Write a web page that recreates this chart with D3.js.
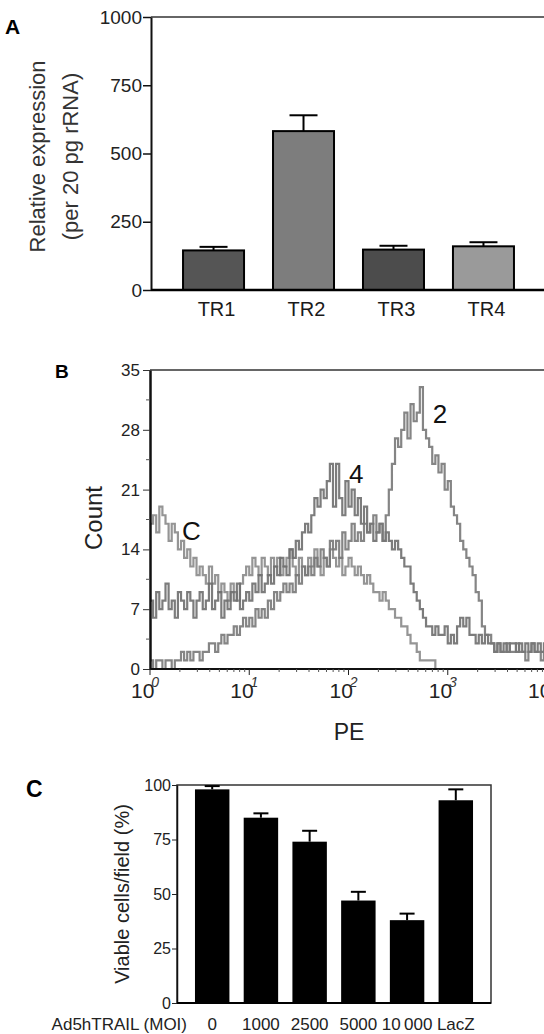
<!DOCTYPE html>
<html><head><meta charset="utf-8">
<script src="https://cdn.jsdelivr.net/npm/d3@7"></script>
<style>
body{margin:0;background:#fff}
svg{display:block}
text{font-family:"Liberation Sans",Arial,Helvetica,sans-serif;fill:#1a1a1a}
</style>
</head><body>
<svg id="chart" width="544" height="1034"></svg>
<script>
// ---------- Panel A data ----------
const trCategories = ["TR1", "TR2", "TR3", "TR4"];
const trValues = [145, 582, 148, 160];
const trErrors = [13, 58, 14, 15];
const trTicks = [0, 250, 500, 750, 1000];
const trFill = ["#555555", "#7d7d7d", "#4c4c4c", "#9a9a9a"];

// ---------- Panel B data ----------
const peTicks = [1, 10, 100, 1000, 10000];
const peExponents = ["0", "1", "2", "3", "4"];
const countTicks = [0, 7, 14, 21, 28, 35];
const binsPerDecade = 32;
const histC = [
  17,18,16,19,18,17,15,17,16,14,
  15,13,14,12,13,11,12,11,10,12,
  10,11,9,10,9,8,10,9,8,10,
  11,12,11,13,12,11,13,12,11,13,
  12,13,11,12,13,14,12,11,13,12,
  11,13,12,14,12,11,13,12,14,13,
  12,13,11,12,13,12,11,12,11,10,
  11,10,9,9,8,9,8,7,7,6,
  6,5,5,4,3,3,2,1,1,1,
  1,1,0,0,0,0,0,0,0,0,
  0,0,0,0,0,0,0,0,0,0,
  0,0,0,0,0,0,0,0,0,0,
  0,0,0,0,0,0,0,0
];
const hist4 = [
  8,6,9,7,8,10,7,8,6,9,
  8,7,9,8,6,8,9,7,8,10,
  7,8,9,6,8,7,9,8,10,7,
  8,9,8,10,9,11,9,10,11,10,
  12,11,13,12,11,14,13,15,14,16,
  17,16,18,20,19,21,20,22,24,19,
  24,20,18,22,19,21,18,20,17,19,
  16,17,15,16,17,15,16,15,14,15,
  14,13,12,12,10,9,8,7,6,5,
  5,4,5,4,4,5,3,4,3,5,
  6,5,6,4,4,3,4,3,4,3,
  3,2,3,2,3,2,3,3,2,3,
  2,3,2,3,2,3,2,3
];
const hist2 = [
  1,0,1,1,0,1,1,0,1,1,
  2,1,2,1,2,2,1,2,2,3,
  3,2,3,4,3,4,4,5,4,5,
  6,5,6,5,7,6,7,6,8,7,
  9,8,9,10,9,10,9,11,10,12,
  11,12,11,13,12,14,13,12,15,14,
  15,13,16,14,15,17,15,16,15,17,
  16,17,18,16,17,15,18,21,24,27,
  26,28,30,27,31,29,30,33,28,27,
  26,24,25,23,24,21,22,19,18,17,
  15,14,13,12,11,9,8,5,4,4,
  3,2,3,2,2,3,2,2,3,2,
  2,1,2,3,2,2,1,2
];
const histNames = ["C", "4", "2"];
const histLabelPE = [2.1, 101, 708];
const histLabelCount = [15.1, 21.8, 28.8];
const histStroke = ["#8a8a8a", "#6e6e6e", "#787878"];

// ---------- Panel C data ----------
const moiCategories = ["0", "1000", "2500", "5000", "10\u2009000", "LacZ"];
const viableValues = [98, 85, 74, 47, 38, 93];
const viableErrors = [1.5, 2, 5, 4, 3, 5];
const viableTicks = [0, 25, 50, 75, 100];

const svg = d3.select("#chart");
const FONT = "'Liberation Sans',Arial,sans-serif";

// ================= Panel A =================
(function () {
  const left = 151, right = 546, top = 17, bottom = 290;
  const g = svg.append("g");
  const x = d3.scaleBand().domain(trCategories).range([left, right])
    .paddingInner(0.322).paddingOuter(0.356);
  const y = d3.scaleLinear().domain([0, 1000]).range([bottom, top]);

  g.append("text").attr("x", 5).attr("y", 34).attr("font-size", 21)
    .attr("font-weight", "bold").style("fill", "#000").text("A");

  g.append("line").attr("x1", left).attr("x2", right).attr("y1", top).attr("y2", top)
    .attr("stroke", "#333").attr("stroke-width", 1.5);

  const ax = g.append("g").attr("transform", `translate(${left},0)`)
    .call(d3.axisLeft(y).tickValues(trTicks).tickFormat(d3.format("d"))
      .tickSize(8).tickSizeOuter(0).tickPadding(1));
  ax.select(".domain").attr("stroke", "#111").attr("stroke-width", 2);
  ax.selectAll(".tick line").attr("stroke", "#111").attr("stroke-width", 1.5);
  ax.selectAll(".tick text").attr("font-size", 19).style("font-family", FONT).style("fill", "#222");

  g.selectAll("rect.bar").data(trValues).join("rect")
    .attr("x", (d, i) => x(trCategories[i]))
    .attr("y", d => y(d))
    .attr("width", x.bandwidth())
    .attr("height", d => bottom - y(d))
    .attr("fill", (d, i) => trFill[i])
    .attr("stroke", "#000").attr("stroke-width", 2);

  const cap = 28;
  trValues.forEach((v, i) => {
    const cx = x(trCategories[i]) + x.bandwidth() / 2;
    g.append("line").attr("x1", cx).attr("x2", cx).attr("y1", y(v)).attr("y2", y(v + trErrors[i]))
      .attr("stroke", "#000").attr("stroke-width", 2);
    g.append("line").attr("x1", cx - cap / 2).attr("x2", cx + cap / 2)
      .attr("y1", y(v + trErrors[i])).attr("y2", y(v + trErrors[i]))
      .attr("stroke", "#000").attr("stroke-width", 2);
  });

  g.append("line").attr("x1", left).attr("x2", right).attr("y1", bottom).attr("y2", bottom)
    .attr("stroke", "#000").attr("stroke-width", 2.5);

  g.selectAll("text.cat").data(trCategories).join("text")
    .attr("x", d => x(d) + x.bandwidth() / 2 + 3).attr("y", 316)
    .attr("text-anchor", "middle").attr("font-size", 20).text(d => d);

  g.append("text").attr("transform", `translate(45,${(top + bottom) / 2 + 3}) rotate(-90)`)
    .attr("text-anchor", "middle").attr("font-size", 22).style("fill", "#333")
    .text("Relative expression");
  g.append("text").attr("transform", `translate(78,${(top + bottom) / 2 + 3}) rotate(-90)`)
    .attr("text-anchor", "middle").attr("font-size", 22).style("fill", "#333")
    .text("(per 20 pg rRNA)");
})();

// ================= Panel B =================
(function () {
  const left = 150, right = 547, top = 370, bottom = 669;
  const g = svg.append("g");
  const x = d3.scaleLog().domain([1, 10000]).range([left, right]);
  const y = d3.scaleLinear().domain([0, 35]).range([bottom, top]);

  g.append("text").attr("x", 55).attr("y", 378).attr("font-size", 19)
    .attr("font-weight", "bold").style("fill", "#000").text("B");

  svg.append("defs").append("clipPath").attr("id", "clipB")
    .append("rect").attr("x", left).attr("y", top - 2).attr("width", right - left).attr("height", bottom - top + 3);

  const edges = d3.range(histC.length + 1).map(i => Math.pow(10, i / binsPerDecade));
  const line = d3.line().x(d => x(d[0])).y(d => y(d[1])).curve(d3.curveStepAfter);
  const series = [histC, hist4, hist2];
  const hg = g.append("g").attr("clip-path", "url(#clipB)");
  series.forEach((s, k) => {
    const pts = s.map((v, i) => [edges[i], v]);
    pts.push([edges[s.length], s[s.length - 1]]);
    hg.append("path").attr("d", line(pts)).attr("fill", "none")
      .attr("stroke", histStroke[k]).attr("stroke-width", 2.2).attr("stroke-opacity", 0.9);
  });

  histNames.forEach((n, k) => {
    g.append("text").attr("x", x(histLabelPE[k])).attr("y", y(histLabelCount[k]))
      .attr("font-size", 26).style("fill", "#111").text(n);
  });

  g.append("line").attr("x1", left).attr("x2", right).attr("y1", top).attr("y2", top)
    .attr("stroke", "#333").attr("stroke-width", 1.5);

  const ay = g.append("g").attr("transform", `translate(${left},0)`)
    .call(d3.axisLeft(y).tickValues(countTicks).tickSize(7).tickSizeOuter(0).tickPadding(3));
  ay.select(".domain").attr("stroke", "#111").attr("stroke-width", 2.5);
  ay.selectAll(".tick line").attr("stroke", "#333");
  ay.selectAll(".tick text").attr("font-size", 17).style("font-family", FONT).style("fill", "#222");
  const minorY = d3.range(3.5, 35, 7);
  g.selectAll("line.my").data(minorY).join("line")
    .attr("x1", left - 4).attr("x2", left).attr("y1", d => y(d)).attr("y2", d => y(d))
    .attr("stroke", "#555");

  g.append("line").attr("x1", left).attr("x2", right).attr("y1", bottom).attr("y2", bottom)
    .attr("stroke", "#111").attr("stroke-width", 2);
  const minorX = [];
  for (let d = 1; d < 10000; d *= 10) for (let m = 2; m <= 9; m++) minorX.push(d * m);
  g.selectAll("line.mx").data(minorX).join("line")
    .attr("x1", d => x(d)).attr("x2", d => x(d)).attr("y1", bottom).attr("y2", bottom + 3)
    .attr("stroke", "#555");
  g.selectAll("line.Mx").data(peTicks).join("line")
    .attr("x1", d => x(d)).attr("x2", d => x(d)).attr("y1", bottom).attr("y2", bottom + 6)
    .attr("stroke", "#222");
  const tl = g.selectAll("text.ten").data(peTicks).join("text")
    .attr("x", d => x(d) - 19).attr("y", 698)
    .attr("font-size", 21).style("fill", "#222");
  tl.append("tspan").text("10");
  tl.append("tspan").attr("dx", -3).attr("dy", -11).attr("font-size", 14)
    .attr("font-style", "italic").style("fill", "#333").text((d, i) => peExponents[i]);

  g.append("text").attr("x", 349).attr("y", 740).attr("text-anchor", "middle")
    .attr("font-size", 23).style("fill", "#222").text("PE");
  g.append("text").attr("transform", `translate(102,518) rotate(-90)`)
    .attr("text-anchor", "middle").attr("font-size", 24).style("fill", "#222").text("Count");
})();

// ================= Panel C =================
(function () {
  const left = 177, right = 491, top = 785, bottom = 1003;
  const g = svg.append("g");
  const x = d3.scaleBand().domain(moiCategories).range([left, right])
    .paddingInner(0.293).paddingOuter(0.369);
  const y = d3.scaleLinear().domain([0, 100]).range([bottom, top]);

  g.append("text").attr("x", 26).attr("y", 797).attr("font-size", 23)
    .attr("font-weight", "bold").style("fill", "#000").text("C");

  g.append("rect").attr("x", left).attr("y", top).attr("width", right - left).attr("height", bottom - top)
    .attr("fill", "none").attr("stroke", "#333").attr("stroke-width", 1.5);

  g.selectAll("rect.bar").data(viableValues).join("rect")
    .attr("x", (d, i) => x(moiCategories[i]))
    .attr("y", d => y(d))
    .attr("width", x.bandwidth())
    .attr("height", d => bottom - y(d))
    .attr("fill", "#000");

  const cap = 15;
  viableValues.forEach((v, i) => {
    const cx = x(moiCategories[i]) + x.bandwidth() / 2;
    g.append("line").attr("x1", cx).attr("x2", cx).attr("y1", y(v)).attr("y2", y(v + viableErrors[i]))
      .attr("stroke", "#000").attr("stroke-width", 2);
    g.append("line").attr("x1", cx - cap / 2).attr("x2", cx + cap / 2)
      .attr("y1", y(v + viableErrors[i])).attr("y2", y(v + viableErrors[i]))
      .attr("stroke", "#000").attr("stroke-width", 2);
  });

  const ay = g.append("g").attr("transform", `translate(${left},0)`)
    .call(d3.axisLeft(y).tickValues(viableTicks).tickSize(5).tickSizeOuter(0).tickPadding(1));
  ay.select(".domain").attr("stroke", "#111").attr("stroke-width", 1.5);
  ay.selectAll(".tick line").attr("stroke", "#222");
  ay.selectAll(".tick text").attr("font-size", 16).style("font-family", FONT).style("fill", "#222");

  g.append("line").attr("x1", left).attr("x2", right).attr("y1", bottom).attr("y2", bottom)
    .attr("stroke", "#000").attr("stroke-width", 2);

  g.selectAll("text.cat").data(moiCategories).join("text")
    .attr("x", d => x(d) + x.bandwidth() / 2).attr("y", 1030)
    .attr("text-anchor", "middle").attr("font-size", 17).style("fill", "#222").text(d => d);
  g.append("text").attr("x", 187).attr("y", 1030).attr("text-anchor", "end")
    .attr("font-size", 17).style("fill", "#222").text("Ad5hTRAIL (MOI)");

  g.append("text").attr("transform", `translate(129,${(top + bottom) / 2}) rotate(-90)`)
    .attr("text-anchor", "middle").attr("font-size", 20).style("fill", "#222")
    .text("Viable cells/field (%)");
})();
</script>
</body></html>
